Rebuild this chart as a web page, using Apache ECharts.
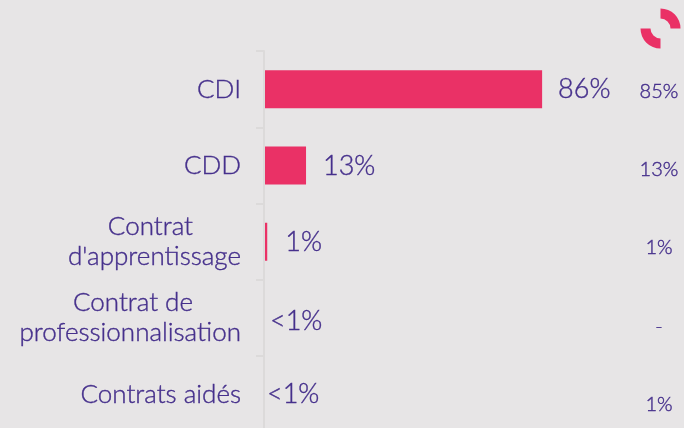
<!DOCTYPE html>
<html>
<head>
<meta charset="utf-8">
<style>
  html, body { margin: 0; padding: 0; background: #e7e5e6; }
  #chart { width: 684px; height: 428px; }
</style>
</head>
<body>
<div id="chart"></div>
<script src="https://cdn.jsdelivr.net/npm/echarts@6/dist/echarts.min.js"></script>
<script>
const categories = ["CDI", "CDD", "Contrat\nd'apprentissage", "Contrat de\nprofessionnalisation", "Contrats aidés"];
const values = [86, 13, 1, 0, 0];
const valueLabels = ["86%", "13%", "1%", "<1%", "<1%"];
const previousLabels = ["85%", "13%", "1%", "-", "1%"];
const iconSlices = [25, 25, 25, 25];

const TEXT = "#46308c";
const PINK = "#ea3166";
const AXIS = "#dcdada";
const FONT = "Lato, sans-serif";

// the value labels do not sit at a regular distance in the source
const labelGaps = [16, 17, 18, 6, 3];
const labelShifts = [0, 1, 1, 3, 0];

// Lato Light with a hairline outline comes closest to the source stroke weight
const textStyle = {
  color: TEXT,
  fontFamily: FONT,
  fontWeight: 300,
  textBorderColor: TEXT,
  textBorderWidth: 0.4,
};
const categoryText = { ...textStyle, fontSize: 26, lineHeight: 30 };

// two-line labels are centred on each other, the block itself sits right
function formatCategory(value) {
  const lines = value.split("\n");
  if (lines.length === 1) return `{line|${value}}`;
  return `{first|${lines[0]}}\n{line|${lines[1]}}`;
}

const chart = echarts.init(document.getElementById("chart"));

chart.setOption({
  backgroundColor: "#e7e5e6",
  animation: false,
  grid: [
    // the axis runs past the bottom of the page, so no clamping to the canvas
    { left: 264, top: 51, width: 323.4, height: 381.5, outerBoundsMode: "none" },
    { left: 659, top: 52, width: 10, height: 392, outerBoundsMode: "none" },
  ],
  xAxis: [
    { type: "value", gridIndex: 0, min: 0, max: 100, show: false },
    { type: "value", gridIndex: 1, min: 0, max: 1, show: false },
  ],
  yAxis: [
    {
      type: "category",
      gridIndex: 0,
      inverse: true,
      z: 5,
      data: categories,
      axisLine: { show: true, lineStyle: { color: AXIS, width: 2 } },
      axisTick: { show: true, length: 8, lineStyle: { color: AXIS, width: 2 } },
      axisLabel: {
        margin: 23,
        align: "right",
        formatter: formatCategory,
        rich: {
          line: categoryText,
          first: { ...categoryText, padding: [0, 48, 0, 0] },
        },
      },
    },
    {
      type: "category",
      gridIndex: 1,
      inverse: true,
      data: previousLabels,
      axisLine: { show: false },
      axisTick: { show: false },
      axisLabel: {
        ...textStyle,
        margin: 0,
        fontSize: 20,
        align: "center",
      },
    },
  ],
  series: [
    {
      type: "bar",
      xAxisIndex: 0,
      yAxisIndex: 0,
      barWidth: 38,
      silent: true,
      itemStyle: { color: PINK },
      data: values.map((v, i) => ({
        value: v,
        label: {
          ...textStyle,
          show: true,
          position: "right",
          distance: labelGaps[i],
          offset: [0, labelShifts[i]],
          formatter: valueLabels[i],
          fontSize: 27,
        },
      })),
    },
    {
      type: "pie",
      center: [660.5, 28.5],
      radius: [10, 20],
      startAngle: 90,
      clockwise: true,
      silent: true,
      label: { show: false },
      labelLine: { show: false },
      data: iconSlices.map((v, i) => ({
        value: v,
        itemStyle: { color: i % 2 === 0 ? PINK : "transparent" },
      })),
    },
  ],
});
</script>
</body>
</html>
